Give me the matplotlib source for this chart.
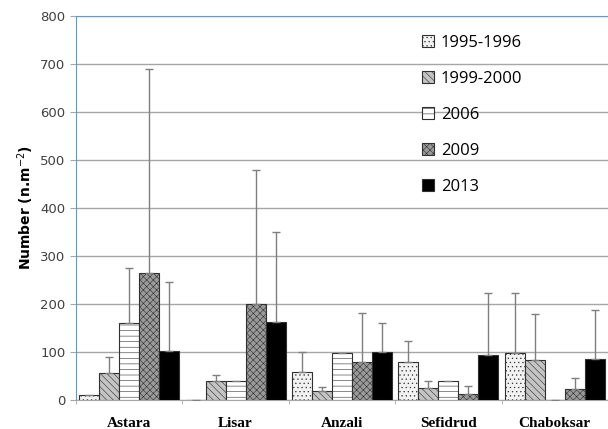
"""Grouped bar chart of density per station and survey year"""
import numpy as np
import matplotlib.pyplot as plt

stations = ['Astara', 'Lisar', 'Anzali', 'Sefidrud', 'Chaboksar']
years = ['1995-1996', '1999-2000', '2006', '2009', '2013']

# mean values per year (rows) and station (columns)
y1995 = [10, 0, 59, 79, 98]
y1999 = [57, 40, 19, 24, 83]
y2006 = [160, 39, 98, 39, 0]
y2009 = [265, 200, 79, 12, 22]
y2013 = [102, 163, 101, 93, 85]

# top of the error whisker (nan = none drawn)
e1995 = [np.nan, np.nan, 101, 122, 222]
e1999 = [90, 52, 27, 39, 179]
e2006 = [275, np.nan, np.nan, np.nan, np.nan]
e2009 = [690, 480, 181, 30, 46]
e2013 = [245, 350, 160, 222, 188]

means = [y1995, y1999, y2006, y2009, y2013]
tops = [e1995, e1999, e2006, e2009, e2013]
faces = ['#f2f2f2', '#c4c4c4', 'white', '#9a9a9a', 'black']
hatches = ['....', '\\\\\\\\\\', '---', 'xxxxx', None]

plt.rcParams['hatch.linewidth'] = 0.4
fig = plt.figure(figsize=(6.08, 4.29), dpi=100)
ax = fig.add_axes([0.125, 0.0676, 0.875, 0.8951])

x = np.arange(len(stations))
w = 0.188
for i, (vals, top) in enumerate(zip(means, tops)):
    pos = x - 2 * w + i * w
    vals = np.array(vals, dtype=float)
    ax.bar(pos, vals, width=w, color=faces[i], edgecolor='#303030',
           linewidth=0.8, hatch=hatches[i], label=years[i], zorder=3)
    up = np.array(top) - vals
    ax.errorbar(pos, vals, yerr=[np.zeros_like(up), up], fmt='none',
                ecolor='#7f7f7f', elinewidth=1, capsize=3, capthick=1, zorder=4)

ax.set_xlim(-0.5, len(stations) - 0.5)
ax.set_ylim(0, 800)
ax.set_yticks(range(0, 801, 100))
ax.yaxis.grid(True, color='#a6a6a6', linewidth=1, zorder=0)
ax.set_axisbelow(True)

ax.set_xticks(x)
ax.set_xticklabels(stations, family='Liberation Serif', fontweight='bold', fontsize=11)
ax.set_xticks(np.arange(-0.5, len(stations), 1), minor=True)
ax.tick_params(axis='x', which='major', length=0, pad=12)
ax.tick_params(axis='x', which='minor', length=3, color='#a6a6a6')
ax.tick_params(axis='y', length=4, color='#a6a6a6', labelsize=9.5, labelcolor='#404040')

ax.set_ylabel('Number (n.m$^{-2}$)', fontsize=10, fontweight='bold', labelpad=3)

ax.spines['right'].set_visible(False)
ax.spines['left'].set_color('#5b9bd5')
ax.spines['top'].set_color('#5b9bd5')
ax.spines['bottom'].set_color('#a6a6a6')

ax.legend(loc='upper left', bbox_to_anchor=(0.65, 0.95), frameon=False,
          prop={'family': 'Open Sans', 'size': 12}, handlelength=0.75,
          handleheight=0.75, handletextpad=0.4, labelspacing=1.2,
          borderaxespad=0, borderpad=0)

fig.savefig('out.png', dpi=100)
